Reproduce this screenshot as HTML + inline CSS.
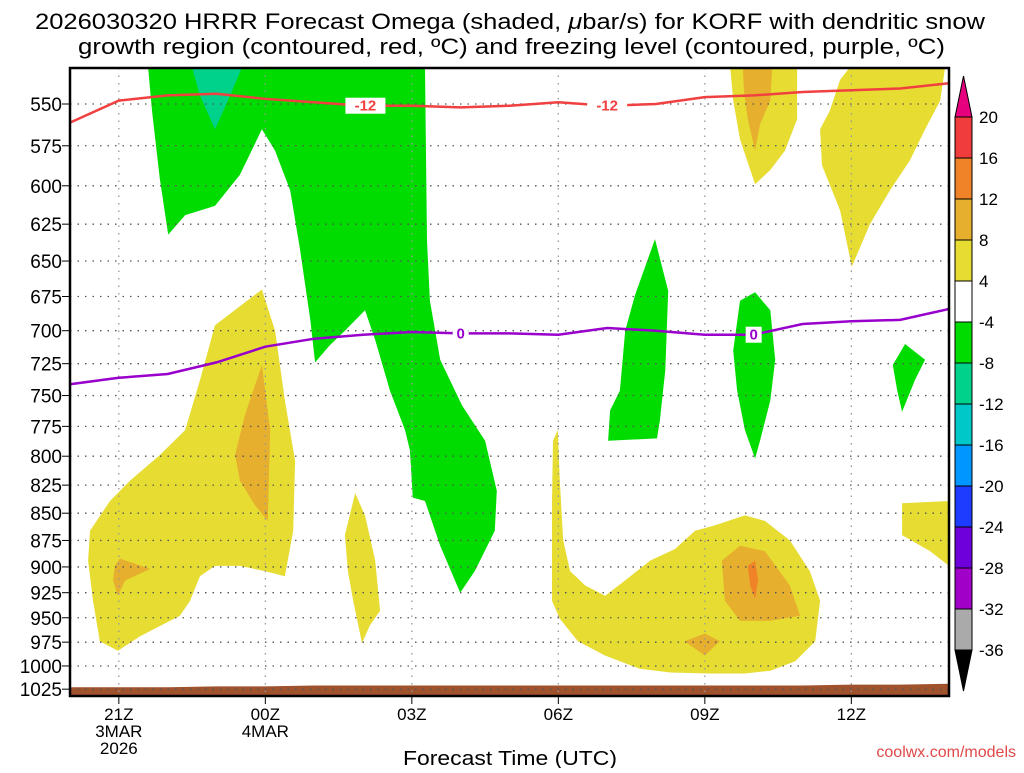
<!DOCTYPE html>
<html><head><meta charset="utf-8"><style>
body{margin:0;background:#fff;}
svg text{font-family:"Liberation Sans","DejaVu Sans",sans-serif;}
</style></head><body>
<svg id="chart" width="1024" height="768" viewBox="0 0 1024 768" xmlns="http://www.w3.org/2000/svg">
<g id="shade"></g>
<g id="grid"></g>
<g id="lines"></g>
<g id="axes"></g>
<g id="cbar"></g>
<text x="35" y="29" font-size="22" textLength="950" lengthAdjust="spacingAndGlyphs">2026030320 HRRR Forecast Omega (shaded, <tspan font-style="italic">μ</tspan>bar/s) for KORF with dendritic snow</text>
<text x="78" y="54" font-size="22" textLength="867" lengthAdjust="spacingAndGlyphs">growth region (contoured, red, ºC) and freezing level (contoured, purple, ºC)</text>
<text x="403" y="765" font-size="20" textLength="214" lengthAdjust="spacingAndGlyphs">Forecast Time (UTC)</text>
<text x="1016" y="757" font-size="16" text-anchor="end" fill="#e04848">coolwx.com/models</text>
</svg>
<script>
// ---- data ----
const hours = [0,1,2,3,4,5,6,7,8,9,10,11,12,13,14,15,16,17,18];
const dgzMinus12 = [561,548,545,544,547,549,551,551,552,551,549,551,550,546,545,543,542,541,538];
const freezing0 = [741,736,733,724,712,706,703,701,702,702,703,698,700,703,703,695,693,692,684];
const surfacePressure = [1023,1023,1023,1022,1022,1021,1021,1021,1021,1021,1021,1021,1021,1021,1021,1021,1020,1020,1019];
const pressureTicks = [550,575,600,625,650,675,700,725,750,775,800,825,850,875,900,925,950,975,1000,1025];
const timeTickHours = [1,4,7,10,13,16];
const timeTickLabels = [["21Z","3MAR","2026"],["00Z","4MAR"],["03Z"],["06Z"],["09Z"],["12Z"]];
const cbarLevels = [20,16,12,8,4,-4,-8,-12,-16,-20,-24,-28,-32,-36];
const cbarColors = ["#f03c3c","#f08228","#e6af2d","#e6dc32","#ffffff","#00dc00","#00d28c","#00c8c8","#0096ff","#1e3cff","#6e00dc","#a000c8","#aaaaaa"];
// shaded regions [hour, pressure]
const greenMain = [[1.60,529],[1.68,554],[1.84,596],[2.01,632],[2.36,619],[2.97,613],[3.48,593],[3.93,565],[4.20,578],[4.51,603],[4.71,642],[4.92,692],[5.02,724],[5.32,711],[5.63,700],[6.04,685],[6.25,707],[6.55,746],[6.86,778],[6.96,795],[7.02,836],[7.27,839],[7.58,880],[7.99,925],[8.29,904],[8.70,866],[8.74,830],[8.50,787],[8.03,758],[7.58,722],[7.37,678],[7.31,636],[7.27,529]];
const tealTop = [[2.50,529],[3.52,529],[3.28,545],[2.97,565],[2.66,545]];
const green2 = [[11.02,787],[11.06,762],[11.26,746],[11.37,700],[11.57,674],[11.98,635],[12.25,671],[12.19,730],[12.08,770],[12.02,785]];
const green3 = [[13.72,678],[14.03,672],[14.34,685],[14.44,722],[14.34,754],[14.13,787],[14.03,802],[13.82,778],[13.66,746],[13.58,715]];
const green4 = [[16.85,726],[17.10,710],[17.51,722],[17.30,738],[17.04,763],[16.94,746]];
const yellowTopMid = [[13.52,529],[14.89,529],[14.89,559],[14.64,578],[14.34,590],[14.03,599],[13.72,571],[13.58,548]];
const goldTopMid = [[13.78,529],[14.38,529],[14.34,548],[14.13,562],[14.03,578],[13.88,559],[13.80,542]];
const yellowTopRight = [[15.97,529],[17.92,529],[17.82,548],[17.51,565],[17.20,584],[16.79,603],[16.38,625],[16.01,654],[15.77,616],[15.40,587],[15.36,565],[15.56,554],[15.77,536]];
const yellowLeft = [[0.37,894],[0.41,866],[0.82,839],[1.23,821],[1.84,799],[2.36,778],[2.66,738],[2.97,696],[3.48,682],[3.93,670],[4.20,700],[4.40,754],[4.61,804],[4.57,866],[4.40,909],[3.99,904],[3.48,899],[2.97,899],[2.66,909],[2.46,933],[2.25,948],[1.43,969],[0.98,984],[0.61,974],[0.47,933]];
const goldLeft = [[3.38,799],[3.58,766],[3.93,726],[4.10,778],[4.05,857],[3.79,843],[3.48,821]];
const goldLeftSmall = [[0.92,899],[1.02,892],[1.64,902],[1.13,913],[0.98,928],[0.88,913]];
const yellowThin = [[5.63,870],[5.84,832],[6.04,852],[6.25,894],[6.35,943],[6.14,958],[5.98,976],[5.80,933],[5.69,904]];
const yellowBottomRight = [[9.89,787],[9.99,778],[10.03,821],[10.10,875],[10.24,904],[10.55,918],[10.96,928],[11.37,913],[11.88,894],[12.39,883],[12.80,866],[13.21,861],[13.82,852],[14.23,857],[14.74,875],[15.15,904],[15.36,933],[15.26,974],[14.85,995],[14.34,1005],[13.82,1008],[13.11,1008],[12.29,1007],[11.67,1003],[10.96,989],[10.40,974],[10.03,951],[9.87,933],[9.87,839]];
const goldBottomRight = [[13.35,894],[13.72,880],[14.23,885],[14.74,918],[14.95,948],[14.34,953],[13.72,953],[13.41,933]];
const orangeBottomRight = [[13.88,899],[14.03,894],[14.09,913],[14.03,931],[13.93,918]];
const goldBottomSmall = [[12.59,974],[13.00,966],[13.31,974],[13.00,989]];
const yellowRightEdge = [[17.04,841],[18,839],[18,899],[17.61,885],[17.04,870]];

// ---- axes ----
const X0=70, X1=949, Y0=68, Y1=696, HMAX=18;
const xs = h => X0 + (X1-X0)*h/HMAX;
const ys = p => 104 + 940*Math.log(p/550);
const NS="http://www.w3.org/2000/svg";
function mk(parent,tag,attrs){const e=document.createElementNS(NS,tag);for(const k in attrs)e.setAttribute(k,attrs[k]);parent.appendChild(e);return e;}
const shade=document.getElementById('shade'), grid=document.getElementById('grid'), lines=document.getElementById('lines'), axes=document.getElementById('axes'), cbar=document.getElementById('cbar');

const clip=mk(document.getElementById('chart'),'clipPath',{id:'pc'});
mk(clip,'rect',{x:X0,y:Y0,width:X1-X0,height:Y1-Y0});
shade.setAttribute('clip-path','url(#pc)');
lines.setAttribute('clip-path','url(#pc)');

const regions=[
 [greenMain,"#00dc00","green-region-main"],[tealTop,"#00d28c","teal-region"],
 [green2,"#00dc00","green-region-2"],[green3,"#00dc00","green-region-3"],[green4,"#00dc00","green-region-4"],
 [yellowTopMid,"#e6dc32","yellow-region-top-mid"],[goldTopMid,"#e6af2d","gold-region-top-mid"],
 [yellowTopRight,"#e6dc32","yellow-region-top-right"],[yellowLeft,"#e6dc32","yellow-region-left"],
 [goldLeft,"#e6af2d","gold-region-left"],[goldLeftSmall,"#e6af2d","gold-region-left-small"],
 [yellowThin,"#e6dc32","yellow-region-thin"],[yellowBottomRight,"#e6dc32","yellow-region-bottom-right"],
 [goldBottomRight,"#e6af2d","gold-region-bottom-right"],[orangeBottomRight,"#f08228","orange-region-bottom-right"],
 [goldBottomSmall,"#e6af2d","gold-region-bottom-small"],[yellowRightEdge,"#e6dc32","yellow-region-right-edge"]
];
regions.forEach(r=>{
 const el=mk(shade,'polygon',{points:r[0].map(d=>xs(d[0]).toFixed(1)+','+ys(d[1]).toFixed(1)).join(' '),fill:r[1]});
 
 
});
// ground
let gpts=hours.map((h,i)=>xs(h)+','+ys(surfacePressure[i]).toFixed(1)).join(' ');
const ground=mk(shade,'polygon',{points:gpts+' '+X1+','+Y1+' '+X0+','+Y1,fill:'#a0522d'});



// grid
pressureTicks.forEach(p=>{
 const gl=mk(grid,'line',{x1:X0,x2:X1,y1:ys(p),y2:ys(p),stroke:'#555','stroke-width':1.3,'stroke-dasharray':'1.5,6'});
 
 
 const t=mk(axes,'text',{x:62,y:ys(p)+7,'font-size':19,'text-anchor':'end'});t.textContent=p;
 
 
 mk(axes,'line',{x1:62,x2:X0,y1:ys(p),y2:ys(p),stroke:'#000','stroke-width':1});
});
timeTickHours.forEach((h,i)=>{
 const gl=mk(grid,'line',{x1:xs(h),x2:xs(h),y1:Y0,y2:Y1,stroke:'#999','stroke-width':1.3,'stroke-dasharray':'1.5,6'});
 
 
 mk(axes,'line',{x1:xs(h),x2:xs(h),y1:Y1,y2:Y1+8,stroke:'#000','stroke-width':1});
 timeTickLabels[i].forEach((s,j)=>{
  const t=mk(axes,'text',{x:xs(h),y:720+j*17,'font-size':17,'text-anchor':'middle'});t.textContent=s;
  
  
 });
});
mk(axes,'rect',{x:X0,y:Y0,width:X1-X0,height:Y1-Y0,fill:'none',stroke:'#000','stroke-width':2.5});

// contour lines
function drawLine(vals,color,name,labelHours,label){
 const el=mk(lines,'polyline',{points:hours.map((h,i)=>xs(h).toFixed(1)+','+ys(vals[i]).toFixed(1)).join(' '),fill:'none',stroke:color,'stroke-width':2.5});
 
 
 labelHours.forEach(h=>{
  const i=Math.floor(h),f=h-i; const p=vals[i]+(vals[Math.min(i+1,18)]-vals[i])*f;
  mk(lines,'rect',{x:xs(h)-(label.length*6)-2,y:ys(p)-8,width:label.length*12+4,height:16,fill:'#fff'});
  const t=mk(lines,'text',{x:xs(h),y:ys(p)+5,'font-size':15,'font-weight':'bold','text-anchor':'middle',fill:color});t.textContent=label;
  
  
 });
}
drawLine(dgzMinus12,'#f04040','dgz-minus12-line',[6.05,11.0],'-12');
drawLine(freezing0,'#9900cc','freezing-level-line',[8.0,14.0],'0');

// colorbar
for(let i=0;i<cbarColors.length;i++){
 const top=117+i*41;
 const r=mk(cbar,'rect',{x:955,y:top,width:17,height:41,fill:cbarColors[i],stroke:'#000','stroke-width':1});
 
 
}
mk(cbar,'polygon',{points:'955,117 972,117 963.5,76',fill:'#e6007e',stroke:'#000'});
mk(cbar,'polygon',{points:'955,650 972,650 963.5,691',fill:'#000',stroke:'#000'});
cbarLevels.forEach((v,i)=>{
 const t=mk(cbar,'text',{x:979,y:117+i*41+6,'font-size':17});t.textContent=v;
 
 
});
</script>
</body></html>
